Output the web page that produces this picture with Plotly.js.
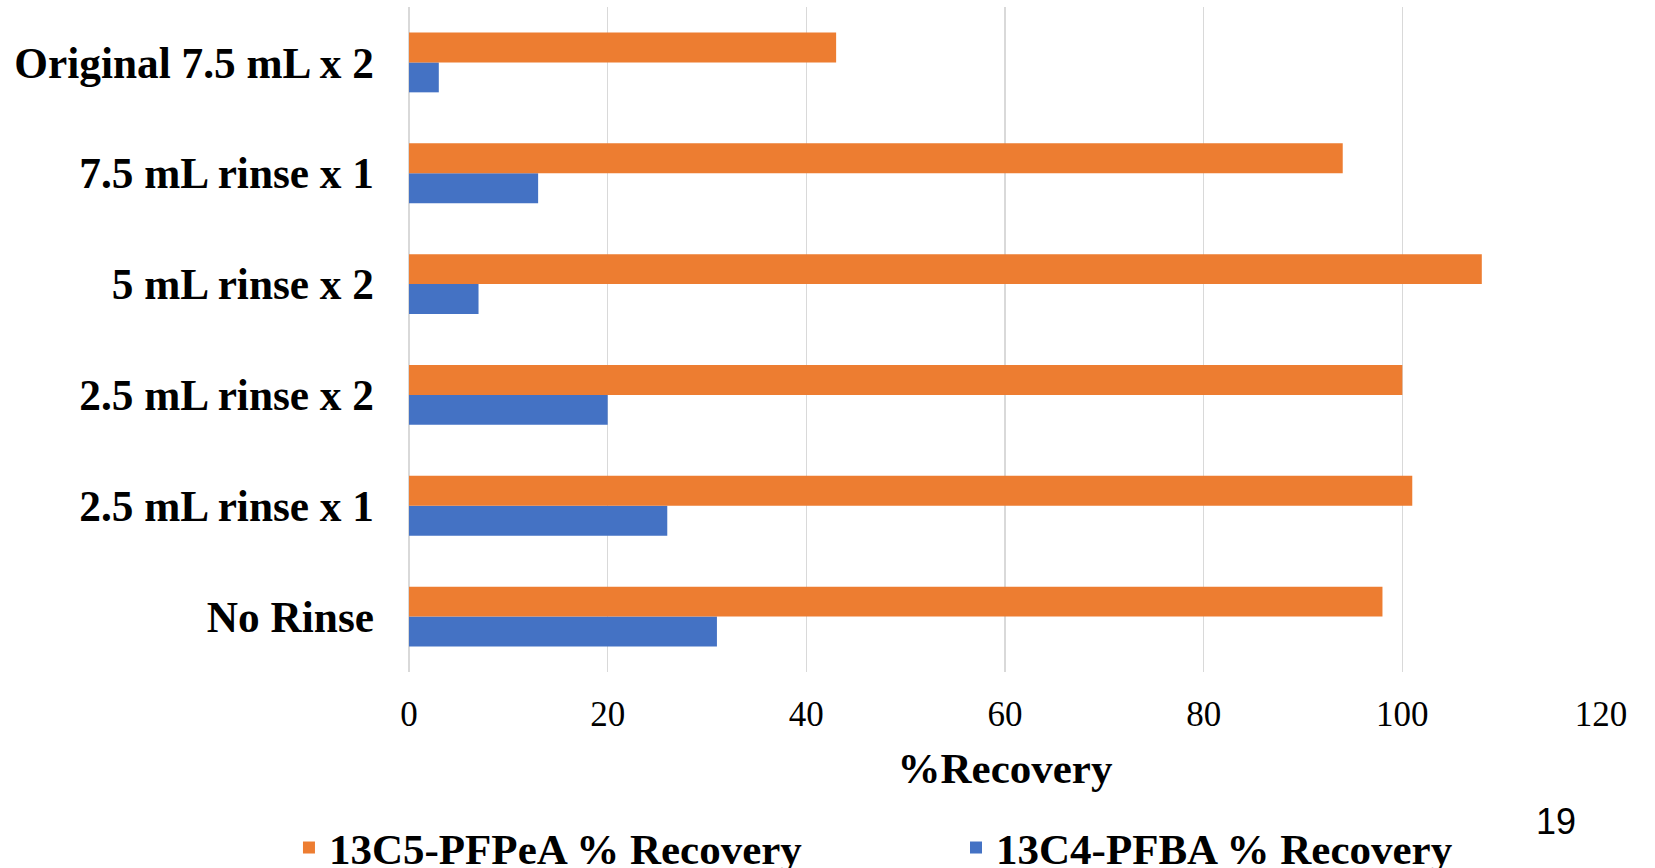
<!DOCTYPE html>
<html>
<head>
<meta charset="utf-8">
<script src="https://cdn.plot.ly/plotly-3.0.1.min.js"></script>
<style>html,body{margin:0;padding:0;background:#fff;}#chart{width:1655px;height:868px;}</style>
</head>
<body>
<div id="chart"></div>
<script>
const categories = ["No Rinse", "2.5 mL rinse x 1", "2.5 mL rinse x 2", "5 mL rinse x 2", "7.5 mL rinse x 1", "Original 7.5 mL x 2"];
const pfpeaName = "13C5-PFPeA % Recovery";
const pfbaName = "13C4-PFBA % Recovery";
const pfpeaValues = [98, 101, 100, 108, 94, 43];
const pfbaValues = [31, 26, 20, 7, 13, 3];
const xTicks = [0, 20, 40, 60, 80, 100, 120];
const pageNumber = "19";

const serif = "Liberation Serif, Times New Roman, serif";

const traces = [
  {type: "bar", orientation: "h", y: categories, x: pfbaValues, name: pfbaName,
   marker: {color: "#4472C4"}, legend: "legend2", hoverinfo: "x+y"},
  {type: "bar", orientation: "h", y: categories, x: pfpeaValues, name: pfpeaName,
   marker: {color: "#ED7D31"}, legend: "legend", hoverinfo: "x+y"}
];

const legendFont = {family: serif, size: 43, color: "#000", weight: "bold"};

const layout = {
  width: 1655, height: 868,
  paper_bgcolor: "#fff", plot_bgcolor: "#fff",
  margin: {l: 409, r: 54, t: 7, b: 196, autoexpand: false},
  barmode: "group", bargap: 0.46, bargroupgap: 0,
  showlegend: true,
  xaxis: {
    range: [0, 120], tickvals: xTicks, ticktext: xTicks.map(String),
    showgrid: true, gridcolor: "#d9d9d9", gridwidth: 1.5,
    zeroline: true, zerolinecolor: "#d9d9d9", zerolinewidth: 1.5,
    showline: false, ticks: "", ticklabelstandoff: 18,
    tickfont: {family: serif, size: 35, color: "#000"},
    title: {text: "%Recovery", font: {family: serif, size: 43, color: "#000", weight: "bold"}, standoff: 19},
    fixedrange: true
  },
  yaxis: {
    type: "category", categoryorder: "array", categoryarray: categories,
    showgrid: false, zeroline: false, showline: false, ticks: "",
    ticklabelstandoff: 34,
    tickfont: {family: serif, size: 43.3, color: "#000", weight: "bold"},
    fixedrange: true
  },
  legend: {orientation: "h", x: -0.1007, xanchor: "left", y: -0.264, yanchor: "middle",
           font: legendFont, bgcolor: "rgba(0,0,0,0)", borderwidth: 0},
  legend2: {orientation: "h", x: 0.4589, xanchor: "left", y: -0.264, yanchor: "middle",
           font: legendFont, bgcolor: "rgba(0,0,0,0)", borderwidth: 0},
  annotations: [
    {text: pageNumber, xref: "paper", yref: "paper", x: 0.962, y: -0.225,
     xanchor: "center", yanchor: "middle", showarrow: false,
     font: {family: "Liberation Sans, Arial, sans-serif", size: 36, color: "#000"}}
  ]
};

Plotly.newPlot("chart", traces, layout, {displayModeBar: false, staticPlot: true});
</script>
</body>
</html>
